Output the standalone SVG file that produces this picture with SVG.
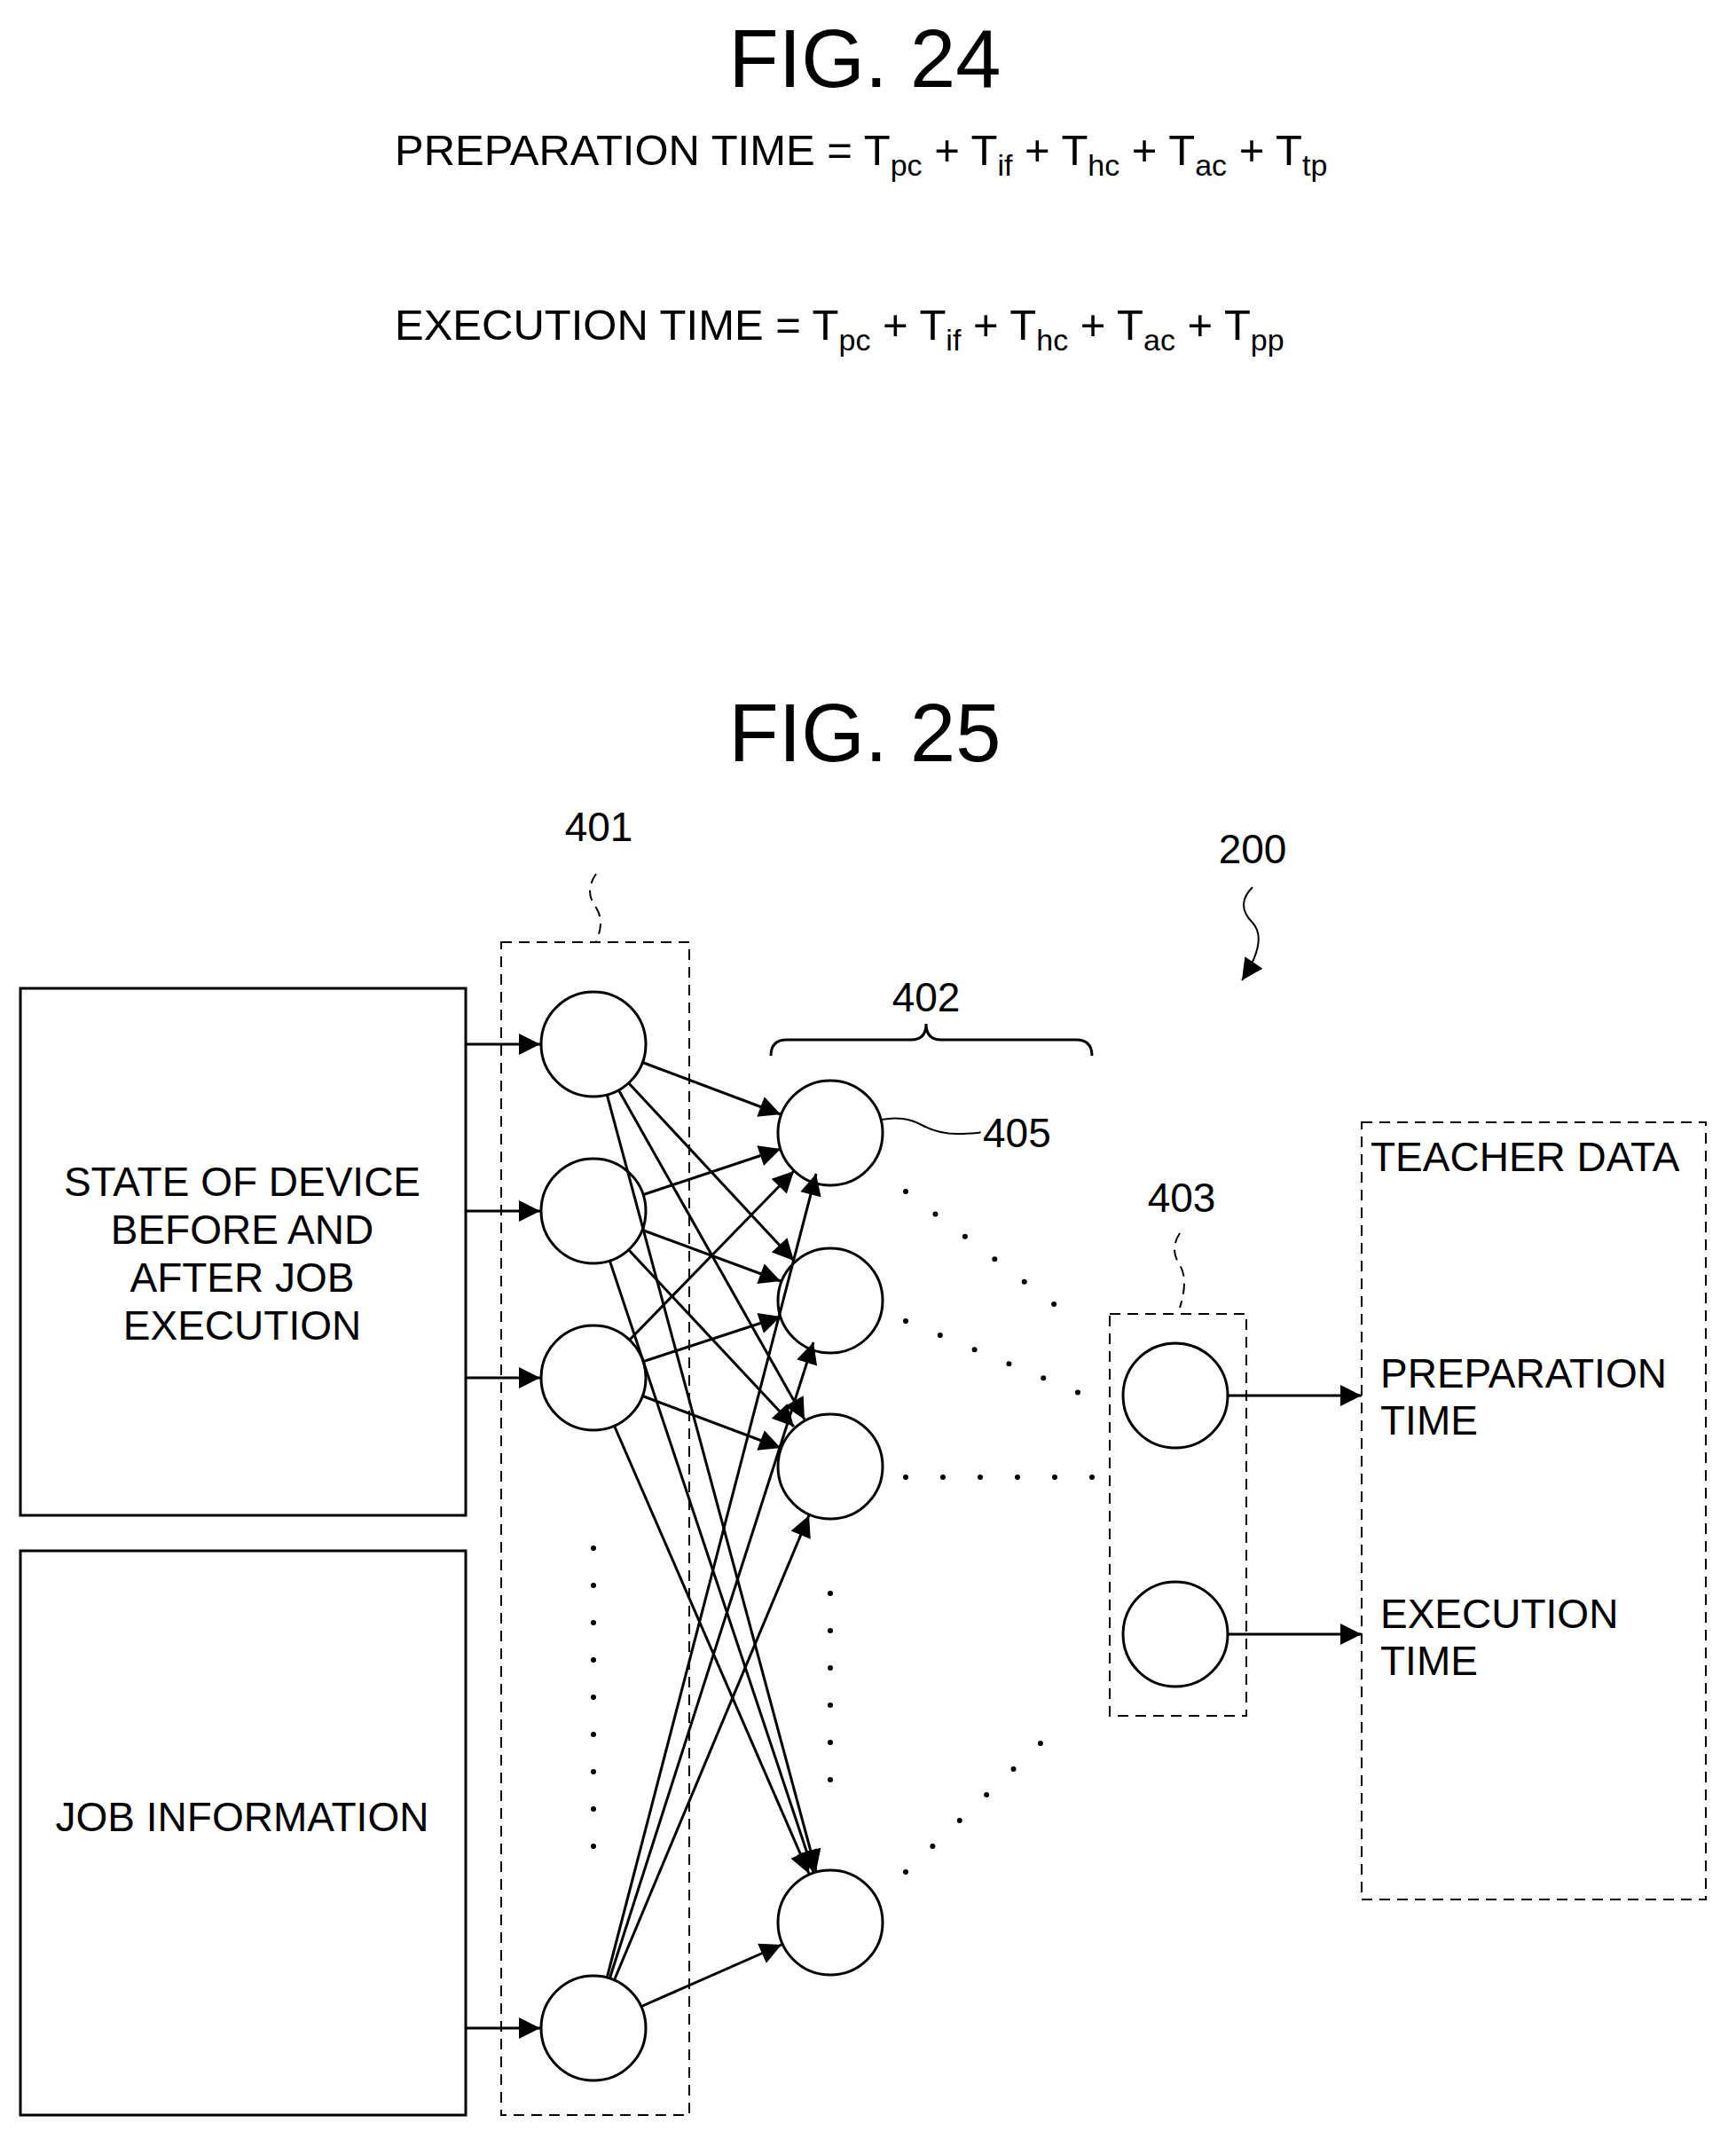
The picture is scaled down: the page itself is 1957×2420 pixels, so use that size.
<svg xmlns="http://www.w3.org/2000/svg" width="1957" height="2420" viewBox="0 0 1957 2420">
<style>
text{font-family:"Liberation Sans",Arial,sans-serif;fill:#000}
.t{font-size:46px}
.e{font-size:49px}
.s{font-size:34px}
.c{fill:#fff;stroke:#000;stroke-width:3}
.b{fill:none;stroke:#000;stroke-width:3}
.d{fill:none;stroke:#000;stroke-width:2;stroke-dasharray:12 8}
.a{stroke:#000;stroke-width:3}
.dot{stroke:#000;stroke-width:6;stroke-linecap:round;stroke-dasharray:0 42;fill:none}
</style>
<defs>
<marker id="ah2" viewBox="0 0 10 10" refX="10" refY="5" markerWidth="30" markerHeight="24" markerUnits="userSpaceOnUse" orient="auto"><path d="M0,0L10,5L0,10z"/></marker>
</defs>
<rect width="1957" height="2420" fill="#fff"/>
<text x="975" y="98" text-anchor="middle" style="font-size:92px">FIG. 24</text>
<text class="e" x="445" y="186">PREPARATION TIME = T<tspan class="s" dy="12">pc</tspan><tspan dy="-12"> + T</tspan><tspan class="s" dy="12">if</tspan><tspan dy="-12"> + T</tspan><tspan class="s" dy="12">hc</tspan><tspan dy="-12"> + T</tspan><tspan class="s" dy="12">ac</tspan><tspan dy="-12"> + T</tspan><tspan class="s" dy="12">tp</tspan></text>
<text class="e" x="445" y="383">EXECUTION TIME = T<tspan class="s" dy="12">pc</tspan><tspan dy="-12"> + T</tspan><tspan class="s" dy="12">if</tspan><tspan dy="-12"> + T</tspan><tspan class="s" dy="12">hc</tspan><tspan dy="-12"> + T</tspan><tspan class="s" dy="12">ac</tspan><tspan dy="-12"> + T</tspan><tspan class="s" dy="12">pp</tspan></text>
<text x="975" y="858" text-anchor="middle" style="font-size:92px">FIG. 25</text>

<g id="box-state"><rect class="b" x="23" y="1114" width="502" height="594"/>
<text class="t" text-anchor="middle" x="273" y="1348">STATE OF DEVICE</text><text class="t" text-anchor="middle" x="273" y="1402">BEFORE AND</text><text class="t" text-anchor="middle" x="273" y="1456">AFTER JOB</text><text class="t" text-anchor="middle" x="273" y="1510">EXECUTION</text></g>
<g id="box-job"><rect class="b" x="23" y="1748" width="502" height="636"/><text class="t" text-anchor="middle" x="273" y="2064">JOB INFORMATION</text></g>

<g id="layer401"><rect class="d" x="565" y="1062" width="212" height="1322"/>
<text class="t" x="675" y="948" text-anchor="middle">401</text>
<path class="d" d="M672,985 q-14,20 0,38 q10,16 0,38"/>
<circle class="c" cx="669" cy="1177" r="59"/><circle class="c" cx="669" cy="1365" r="59"/><circle class="c" cx="669" cy="1553" r="59"/><circle class="c" cx="669" cy="2286" r="59"/>
<line class="dot" x1="669" y1="1745" x2="669" y2="2100"/></g>

<g id="layer402"><text class="t" x="1044" y="1140" text-anchor="middle">402</text>
<path class="b" d="M869,1190 q0,-18 18,-18 h140 q17,0 17,-18 q0,18 17,18 h152 q18,0 18,18"/>
<circle class="c" cx="936" cy="1277" r="59"/><circle class="c" cx="936" cy="1466" r="59"/><circle class="c" cx="936" cy="1653" r="59"/><circle class="c" cx="936" cy="2167" r="59"/>
<line class="dot" x1="936" y1="1796" x2="936" y2="2040"/>
<text class="t" x="1108" y="1293">405</text>
<path class="b" style="stroke-width:2" d="M994,1262 q25,-5 45,6 t45,10 t20,-2"/></g>

<g id="layer403"><rect class="d" x="1251" y="1481" width="154" height="453"/>
<text class="t" x="1332" y="1366" text-anchor="middle">403</text>
<path class="d" d="M1330,1390 q-12,18 0,36 q10,16 0,48"/>
<circle class="c" cx="1325" cy="1573" r="59"/><circle class="c" cx="1325" cy="1842" r="59"/></g>

<g id="teacher"><rect class="d" x="1535" y="1265" width="388" height="876"/>
<text class="t" x="1545" y="1320">TEACHER DATA</text>
<text class="t" x="1556" y="1564">PREPARATION</text><text class="t" x="1556" y="1617">TIME</text>
<text class="t" x="1556" y="1835">EXECUTION</text><text class="t" x="1556" y="1888">TIME</text></g>

<g id="label200"><text class="t" x="1412" y="973" text-anchor="middle">200</text>
<path class="b" style="stroke-width:2;marker-end:url(#ah2)" d="M1412,1000 q-20,20 0,40 q18,20 -12,65"/></g>

<g id="connectors" style="marker-end:url(#ah2)">
<line class="a" x1="525" y1="1177" x2="609" y2="1177"/>
<line class="a" x1="525" y1="1365" x2="609" y2="1365"/>
<line class="a" x1="525" y1="1553" x2="609" y2="1553"/>
<line class="a" x1="525" y1="2286" x2="609" y2="2286"/>
<line class="a" x1="723" y1="1197" x2="880" y2="1256"/>
<line class="a" x1="708" y1="1220" x2="895" y2="1421"/>
<line class="a" x1="697" y1="1228" x2="907" y2="1600"/>
<line class="a" x1="684" y1="1233" x2="920" y2="2109"/>
<line class="a" x1="724" y1="1347" x2="880" y2="1295"/>
<line class="a" x1="723" y1="1386" x2="880" y2="1444"/>
<line class="a" x1="708" y1="1408" x2="895" y2="1608"/>
<line class="a" x1="687" y1="1420" x2="917" y2="2110"/>
<line class="a" x1="709" y1="1511" x2="895" y2="1320"/>
<line class="a" x1="724" y1="1535" x2="880" y2="1484"/>
<line class="a" x1="723" y1="1573" x2="880" y2="1632"/>
<line class="a" x1="692" y1="1606" x2="912" y2="2112"/>
<line class="a" x1="684" y1="2230" x2="920" y2="1323"/>
<line class="a" x1="687" y1="2231" x2="917" y2="1513"/>
<line class="a" x1="692" y1="2233" x2="912" y2="1708"/>
<line class="a" x1="722" y1="2262" x2="881" y2="2192"/>
<line class="a" x1="1383" y1="1573" x2="1535" y2="1573"/>
<line class="a" x1="1383" y1="1842" x2="1535" y2="1842"/>
</g>
<g id="dotted-links">
<line class="dot" x1="1021" y1="1343" x2="1213" y2="1489"/>
<line class="dot" x1="1021" y1="1489" x2="1243" y2="1581"/>
<line class="dot" x1="1021" y1="1665" x2="1243" y2="1665"/>
<line class="dot" x1="1021" y1="2110" x2="1197" y2="1942"/>
</g>
</svg>
